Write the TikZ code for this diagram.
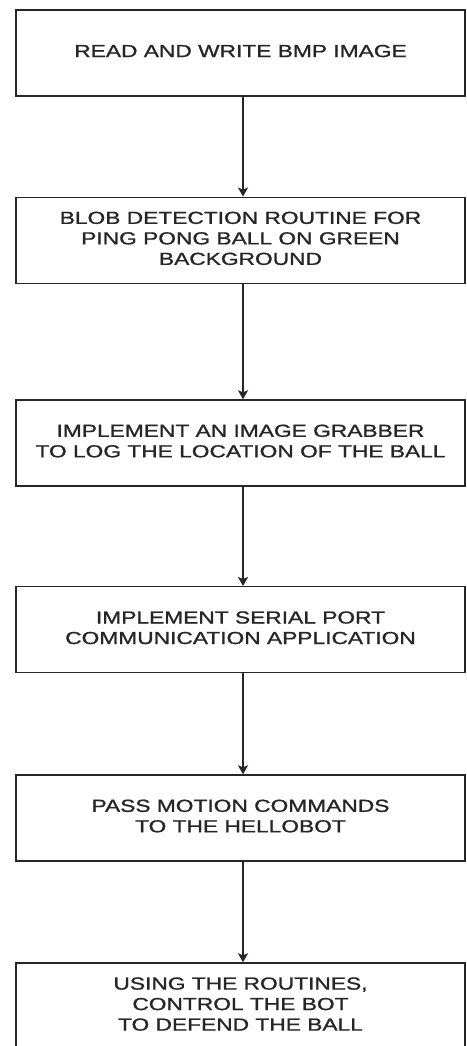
\documentclass[tikz,border=0pt]{standalone}
\usepackage{fontspec}
\setmainfont{Liberation Sans}
\newfontfamily\boxfont{Liberation Sans}[FakeBold=0.9]
\usetikzlibrary{arrows.meta}
\newcommand{\boxtext}[1]{\scalebox{1.3}[1]{\boxfont\fontsize{17.5pt}{20.5pt}\selectfont\begin{tabular}{@{}c@{}}#1\end{tabular}}}
\tikzset{
  stepbox/.style={draw=black!85, line width=1.4pt, rectangle, minimum width=449pt, minimum height=86pt, inner sep=0pt, text=black!85, fill=white},
  flow/.style={draw=black!85, line width=1.5pt, -{Stealth[width=10pt,length=9pt,inset=2pt]}}
}
\begin{document}
\begin{tikzpicture}[x=1pt,y=1pt]
\useasboundingbox (0,0) rectangle (466,-1046);
\clip (0,0) rectangle (466,-1046);
\fill[white] (0,0) rectangle (466,-1046);
\node[stepbox] (b1) at (240.5,-53) {\boxtext{READ AND WRITE BMP IMAGE}};
\node[stepbox] (b2) at (240.5,-240.3) {\boxtext{BLOB DETECTION ROUTINE FOR\\PING PONG BALL ON GREEN\\BACKGROUND}};
\node[stepbox] (b3) at (240.5,-443) {\boxtext{IMPLEMENT AN IMAGE GRABBER\\TO LOG THE LOCATION OF THE BALL}};
\node[stepbox] (b4) at (240.5,-629.7) {\boxtext{IMPLEMENT SERIAL PORT\\COMMUNICATION APPLICATION}};
\node[stepbox] (b5) at (240.5,-818) {\boxtext{PASS MOTION COMMANDS\\TO THE HELLOBOT}};
\node[stepbox] (b6) at (240.5,-1006) {\boxtext{USING THE ROUTINES,\\CONTROL THE BOT\\TO DEFEND THE BALL}};
\draw[flow] ([xshift=2.5pt]b1.south) -- ([xshift=2.5pt]b2.north);
\draw[flow] ([xshift=2.5pt]b2.south) -- ([xshift=2.5pt]b3.north);
\draw[flow] ([xshift=2.5pt]b3.south) -- ([xshift=2.5pt]b4.north);
\draw[flow] ([xshift=2.5pt]b4.south) -- ([xshift=2.5pt]b5.north);
\draw[flow] ([xshift=2.5pt]b5.south) -- ([xshift=2.5pt]b6.north);
\end{tikzpicture}
\end{document}
